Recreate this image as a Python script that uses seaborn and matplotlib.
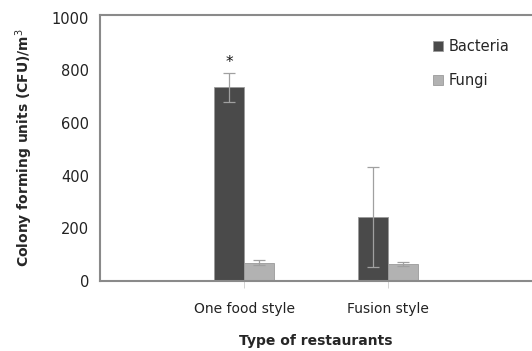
import pandas as pd
import matplotlib
matplotlib.use('Agg')
import matplotlib.pyplot as plt
import seaborn as sns

# Dữ liệu
restaurants = ['One food style', 'Fusion style']
microbes = ['Bacteria', 'Fungi']
bacteria_mean = [735, 242]
bacteria_err = [55, 190]
fungi_mean = [69, 66]
fungi_err = [9, 8]

df = pd.DataFrame({
    'restaurant': restaurants * 2,
    'microbe': ['Bacteria'] * 2 + ['Fungi'] * 2,
    'cfu': bacteria_mean + fungi_mean,
})
errors = {'Bacteria': bacteria_err, 'Fungi': fungi_err}

sns.set_style('white')
plt.rcParams['font.family'] = ['DejaVu Sans']

fig = plt.figure(figsize=(5.32, 3.51), dpi=100)
ax = fig.add_axes([100 / 532, 70 / 351, 432 / 532, 266 / 351])

palette = {'Bacteria': '#4a4a4a', 'Fungi': '#b2b2b2'}
sns.barplot(data=df, x='restaurant', y='cfu', hue='microbe', order=restaurants,
            hue_order=microbes, palette=palette, width=0.41, errorbar=None,
            edgecolor='#9a9a9a', linewidth=0.6, saturation=1, ax=ax)

# Thanh sai số
for cont, name in zip(ax.containers, microbes):
    for bar, err in zip(cont, errors[name]):
        xc = bar.get_x() + bar.get_width() / 2
        ax.errorbar(xc, bar.get_height(), yerr=err, fmt='none',
                    ecolor='#a0a0a0', elinewidth=0.9, capsize=4, capthick=0.9)

# Dấu * trên cột Bacteria
b0 = ax.containers[0][0]
ax.text(b0.get_x() + b0.get_width() / 2, bacteria_mean[0] + bacteria_err[0] + 12, '*',
        ha='center', va='bottom', fontsize=11, color='#111111')

ax.set_xlim(-1, 2)
ax.set_ylim(0, 1010)
ax.set_yticks([0, 200, 400, 600, 800, 1000])
ax.tick_params(axis='y', labelsize=10.5, length=0, pad=8, colors='#222222')
ax.tick_params(axis='x', labelsize=10, length=5, width=0.6, color='#cccccc',
               pad=10, labelcolor='#222222')
ax.tick_params(axis='x', bottom=True)

for side in ['left', 'top', 'bottom']:
    ax.spines[side].set_color('#8a8a8a')
    ax.spines[side].set_linewidth(1.5)
ax.spines['right'].set_visible(False)

ax.set_xlabel('Type of restaurants', fontsize=10, fontweight='bold', labelpad=13)
ax.set_ylabel('Colony forming units (CFU)/m$^3$', fontsize=10, fontweight='bold', labelpad=12)

ax.legend(loc='upper left', bbox_to_anchor=(0.74, 0.96), frameon=False,
          handlelength=0.7, handleheight=0.7, handletextpad=0.4,
          labelspacing=1.35, fontsize=10.5)

fig.savefig('out.png', dpi=100)
